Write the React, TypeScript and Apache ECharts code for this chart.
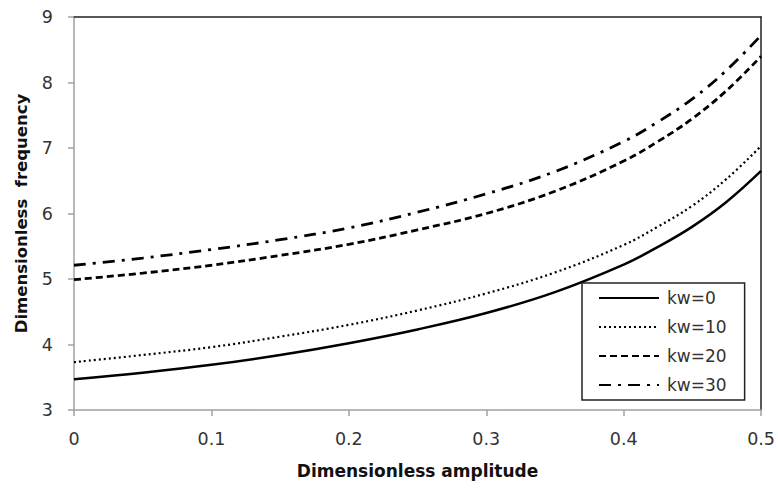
import React, { useEffect, useRef } from "react";
import * as echarts from "echarts";

const amplitude = [0, 0.05, 0.1, 0.15, 0.2, 0.25, 0.3, 0.35, 0.4, 0.425, 0.45, 0.475, 0.5];
const kw0 = [3.47, 3.57, 3.69, 3.84, 4.02, 4.23, 4.48, 4.8, 5.22, 5.49, 5.8, 6.18, 6.65];
const kw10 = [3.73, 3.84, 3.96, 4.12, 4.3, 4.52, 4.78, 5.1, 5.52, 5.8, 6.12, 6.53, 7.03];
const kw20 = [4.99, 5.09, 5.21, 5.36, 5.53, 5.75, 6.0, 6.34, 6.8, 7.1, 7.45, 7.88, 8.4];
const kw30 = [5.21, 5.32, 5.45, 5.6, 5.78, 6.02, 6.3, 6.64, 7.1, 7.4, 7.75, 8.19, 8.72];
const seriesNames = ["kw=0", "kw=10", "kw=20", "kw=30"];

const FONT = "'DejaVu Sans', sans-serif";

export default function App() {
  const ref = useRef<HTMLDivElement>(null);
  useEffect(() => {
    if (!ref.current) return;
    const chart = echarts.init(ref.current, undefined, { renderer: "svg" });
    const toPairs = (ys: number[]) => amplitude.map((x, i) => [x, ys[i]]);
    const styles: any[] = [
      { type: "solid", width: 2.5 },
      { type: [2, 3], width: 2.2 },
      { type: [7, 4], width: 2.8 },
      { type: [12, 7, 3, 7], width: 2.8 },
    ];
    const data = [kw0, kw10, kw20, kw30];
    chart.setOption({
      animation: false,
      backgroundColor: "#ffffff",
      textStyle: { fontFamily: FONT },
      grid: { left: 74, right: 16, top: 17, bottom: 80, containLabel: false },
      legend: {
        orient: "vertical",
        left: 582,
        top: 283,
        padding: [5, 18, 5, 16],
        itemWidth: 60,
        itemHeight: 14,
        itemGap: 9,
        borderColor: "#222",
        borderWidth: 1.5,
        backgroundColor: "#fff",
        itemStyle: { color: "transparent", borderColor: "transparent", borderWidth: 0, opacity: 0 },
        textStyle: { fontSize: 17, color: "#333", lineHeight: 20, fontFamily: FONT, padding: [0, 0, 0, 3] },
        data: seriesNames,
      },
      xAxis: [
        {
          type: "value",
          min: 0,
          max: 0.5,
          interval: 0.1,
          name: "Dimensionless amplitude",
          nameLocation: "middle",
          nameGap: 52,
          nameTextStyle: { fontSize: 17, fontWeight: "bold", color: "#111", fontFamily: FONT },
          axisLine: { show: true, lineStyle: { color: "#a0a0a0", width: 1.5 } },
          axisTick: { show: true, length: 6, lineStyle: { color: "#a0a0a0", width: 1.5 } },
          axisLabel: { fontSize: 17.5, color: "#333", margin: 20, fontFamily: FONT, formatter: (v: number) => String(Math.round(v * 10) / 10) },
          splitLine: { show: false },
        },
        {
          type: "value",
          position: "top",
          min: 0,
          max: 0.5,
          axisLine: { show: true, onZero: false, lineStyle: { color: "#222", width: 1.5 } },
          axisTick: { show: false },
          axisLabel: { show: false },
          splitLine: { show: false },
        },
      ],
      yAxis: [
        {
          type: "value",
          min: 3,
          max: 9,
          interval: 1,
          name: "Dimensionless  frequency",
          nameLocation: "middle",
          nameGap: 44,
          nameTextStyle: { fontSize: 16.5, fontWeight: "bold", color: "#111", fontFamily: FONT },
          axisLine: { show: true, lineStyle: { color: "#a0a0a0", width: 1.5 } },
          axisTick: { show: true, length: 6, lineStyle: { color: "#a0a0a0", width: 1.5 } },
          axisLabel: { fontSize: 17.5, color: "#333", margin: 21, fontFamily: FONT },
          splitLine: { show: false },
        },
        {
          type: "value",
          position: "right",
          min: 3,
          max: 9,
          axisLine: { show: true, onZero: false, lineStyle: { color: "#222", width: 1.5 } },
          axisTick: { show: false },
          axisLabel: { show: false },
          splitLine: { show: false },
        },
      ],
      series: data.map((ys, i) => ({
        name: seriesNames[i],
        type: "line",
        xAxisIndex: 0,
        yAxisIndex: 0,
        smooth: 0.4,
        symbol: "none",
        data: toPairs(ys),
        lineStyle: { color: "#000", ...styles[i] },
        itemStyle: { color: "#000" },
      })),
    });
    return () => chart.dispose();
  }, []);
  return <div ref={ref} style={{ width: 778, height: 490, position: "absolute", left: 0, top: 0 }} />;
}
